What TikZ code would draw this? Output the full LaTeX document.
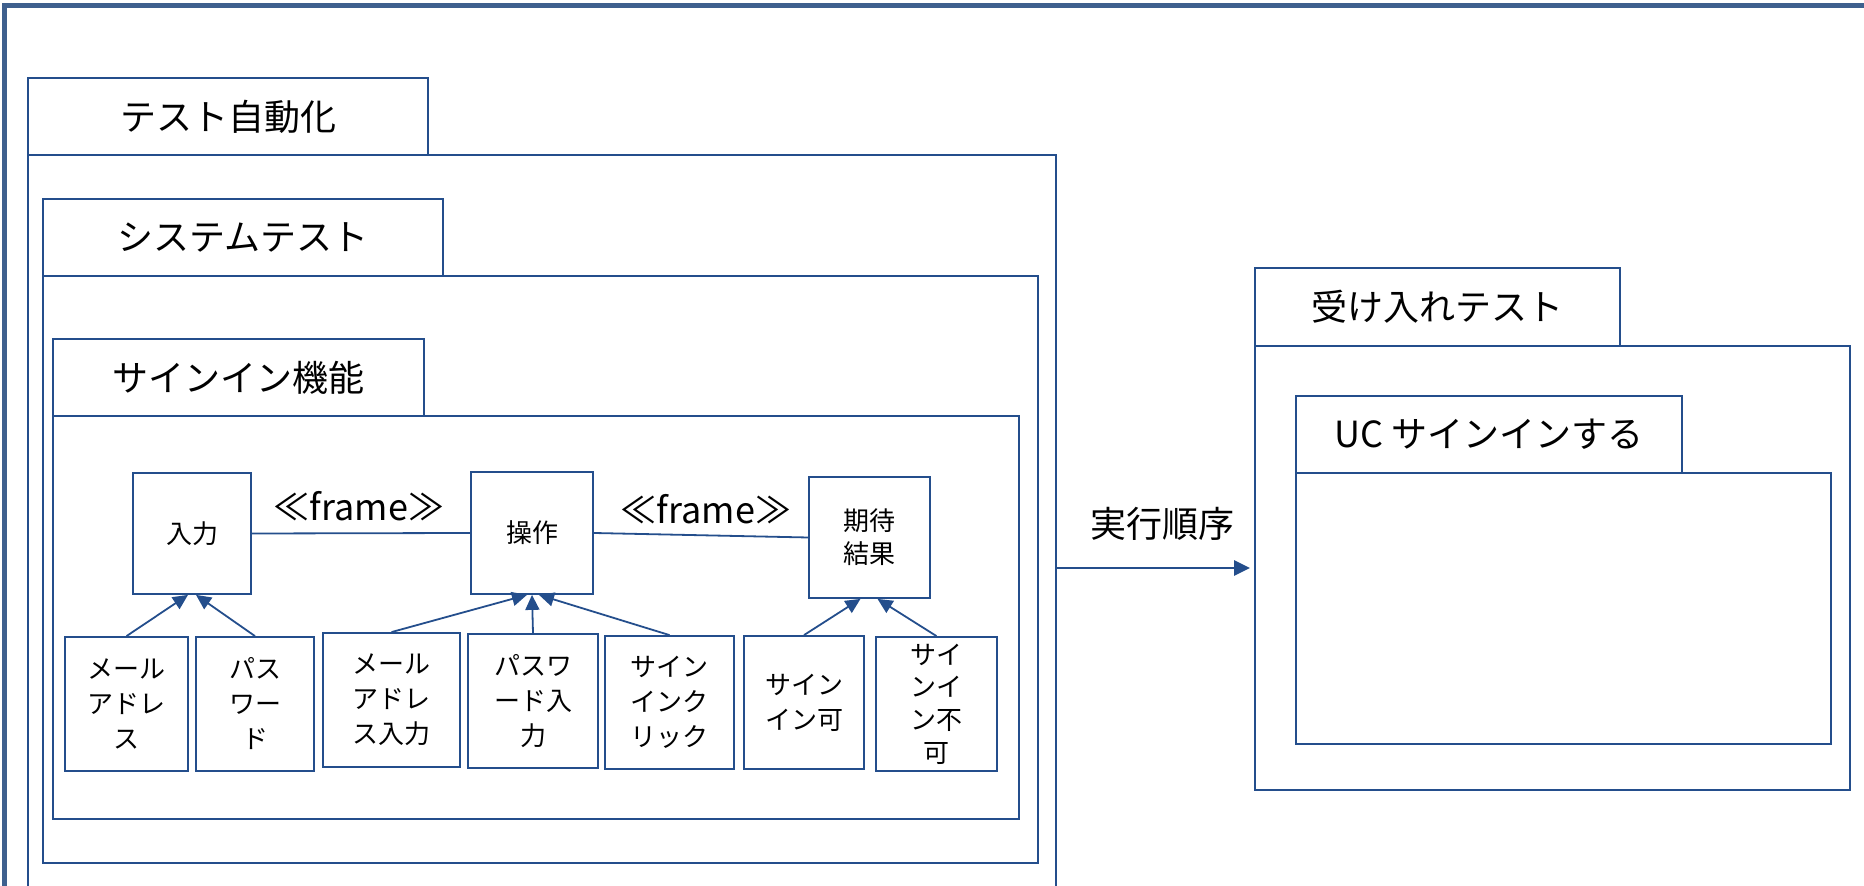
\documentclass[tikz,border=0pt]{standalone}
\usepackage{fontspec}
\setmainfont{Noto Sans CJK JP}
\usetikzlibrary{arrows.meta}
\definecolor{boxblue}{RGB}{36,78,140}
\definecolor{frameblue}{RGB}{62,96,142}
\begin{document}
\begin{tikzpicture}[x=0.5pt,y=-0.5pt,
  line/.style={draw=boxblue, line width=0.9pt},
  box/.style={line, rectangle, inner sep=0pt, align=center},
  tablabel/.style={box, font=\fontsize{18}{22}\selectfont},
  cls/.style={box, font=\fontsize{13}{16.5}\selectfont},
  leaf/.style={box, font=\fontsize{13}{17.5}\selectfont},
  gen/.style={line, -{Triangle[length=7.5pt,width=7pt]}},
  flow/.style={draw=boxblue, line width=1.3pt, -{Triangle[length=8pt,width=7.5pt]}},
  lbl/.style={font=\fontsize{18}{22}\selectfont, inner sep=0pt}
]
\useasboundingbox (0,0) rectangle (1864,886);
\clip (0,0) rectangle (1864,886);
% outer frame
\draw[draw=frameblue, line width=2.5pt] (4,6) rectangle (1950,1000);

% packages
\node[box, minimum width=514pt, minimum height=413pt] (autobody) at (542,568) {};
\node[tablabel, minimum width=200pt, minimum height=38.5pt] (autotab) at (228,116.5) {テスト自動化};
\node[box, minimum width=497.5pt, minimum height=293.5pt] (sysbody) at (540.5,569.5) {};
\node[tablabel, minimum width=200pt, minimum height=38.5pt] (systab) at (243,237.5) {システムテスト};
\node[box, minimum width=483pt, minimum height=201.5pt] (sigbody) at (536,617.5) {};
\node[tablabel, minimum width=185.5pt, minimum height=38.5pt] (sigtab) at (238.5,377.5) {サインイン機能};
\node[box, minimum width=297.5pt, minimum height=222pt] (accbody) at (1552.5,568) {};
\node[tablabel, minimum width=182.5pt, minimum height=39pt] (acctab) at (1437.5,307) {受け入れテスト};
\node[box, minimum width=267.5pt, minimum height=135.5pt] (ucbody) at (1563.5,608.5) {};
\node[tablabel, minimum width=193pt, minimum height=38.5pt] (uctab) at (1489,434.5) {UC サインインする};

% classes
\node[cls, minimum width=59pt, minimum height=60.5pt] (inp) at (192,533.5) {入力};
\node[cls, minimum width=61pt, minimum height=61pt] (ope) at (532,533) {操作};
\node[cls, minimum width=60.5pt, minimum height=60.5pt] (exp) at (869.5,537.5) {期待\\結果};

\draw[line] (inp.east) -- (ope.west);
\draw[line] (ope.east) -- (exp.west);
\node[lbl] (fr1) at (359,506) {≪frame≫};
\node[lbl] (fr2) at (706,509) {≪frame≫};

% leaves
\node[leaf, minimum width=61.5pt, minimum height=67pt] (l1) at (126.5,704) {メール\\アドレ\\ス};
\node[leaf, minimum width=59pt, minimum height=67pt] (l2) at (255,704) {パス\\ワー\\ド};
\node[leaf, minimum width=68.5pt, minimum height=67pt] (l3) at (391.5,700) {メール\\アドレ\\ス入力};
\node[leaf, minimum width=65pt, minimum height=67pt] (l4) at (533,701) {パスワ\\ード入\\力};
\node[leaf, minimum width=64.5pt, minimum height=66.5pt] (l5) at (669.5,702.5) {サイン\\インク\\リック};
\node[leaf, minimum width=60pt, minimum height=66.5pt] (l6) at (804,702.5) {サイン\\イン可};
\node[leaf, minimum width=60.5pt, minimum height=67pt, font=\fontsize{13}{16.3}\selectfont] (l7) at (936.5,704) {サイ\\ンイ\\ン不\\可};

\draw[gen] (l1.north) -- ([xshift=-2pt]inp.south);
\draw[gen] (l2.north) -- ([xshift=2pt]inp.south);
\draw[gen] (l3.north) -- ([xshift=-2.5pt]ope.south);
\draw[gen] (l4.north) -- (ope.south);
\draw[gen] (l5.north) -- ([xshift=3.5pt]ope.south);
\draw[gen] (l6.north) -- ([xshift=-4.5pt]exp.south);
\draw[gen] (l7.north) -- ([xshift=4pt]exp.south);

% execution order
\draw[flow, shorten >=2pt] (autobody.east) -- (accbody.west);
\node[lbl] (ord) at (1162,524) {実行順序};
\end{tikzpicture}
\end{document}
